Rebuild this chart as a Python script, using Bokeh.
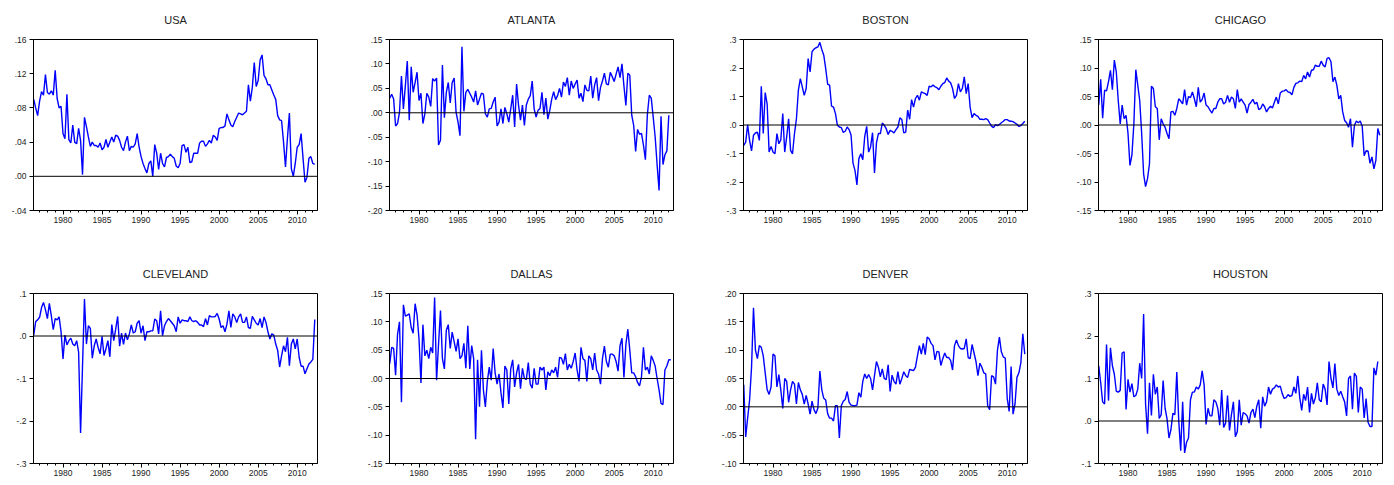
from bokeh.plotting import figure
from bokeh.layouts import row, column
from bokeh.models import Range1d, FixedTicker, Span, CustomJSTickFormatter, ColumnDataSource, Title
from bokeh.embed import file_html
from bokeh.resources import INLINE

# Quarterly series, first observation 1976Q2
START = 1976.25

usa = [
    .090, .080, .071, .088,
    .099, .095, .119, .098,
    .096, .100, .095, .124,
    .091, .080, .082, .050,
    .044, .096, .043, .039,
    .060, .040, .038, .056,
    .042, .002, .069, .058,
    .046, .035, .040, .036,
    .036, .034, .039, .031,
    .034, .043, .034, .040,
    .046, .040, .048, .047,
    .042, .034, .030, .040,
    .047, .030, .035, .034,
    .038, .050, .034, .023,
    .015, .009, .004, .015,
    .018, .000, .037, .027,
    .008, .027, .015, .011,
    .022, .023, .026, .023,
    .021, .012, .010, .015,
    .036, .037, .028, .034,
    .016, .017, .027, .027,
    .027, .039, .041, .041,
    .035, .038, .042, .039,
    .048, .046, .042, .056,
    .057, .057, .059, .073,
    .066, .060, .058, .064,
    .069, .074, .073, .072,
    .074, .076, .107, .088,
    .104, .133, .105, .112,
    .136, .142, .118, .114,
    .107, .107, .101, .095,
    .090, .071, .066, .065,
    .040, .011, .045, .074,
    .009, .000, .015, .034,
    .037, .050, .021, -.007,
    -.001, .021, .023, .015,
    .014,
]

atlanta = [
    .030, .038, .028, -.027, -.022, .001, .075, .008, .055, .106,
    -.015, .094, .042, .062, .083, .025, .040, -.022, -.002, .040,
    .032, .013, .070, .065, .071, -.066, -.056, .098, -.010, .042,
    .062, .020, .062, .071, .001, -.019, -.047, .135, .003, .042,
    .048, .040, .032, .022, .045, .016, .028, .040, .038, -.002,
    -.009, .008, .009, .022, .032, -.027, -.019, .008, -.022, .011,
    -.002, -.019, .008, .036, -.029, .059, .015, -.015, .016, -.026,
    .016, .028, .035, .065, .008, -.009, .005, .009, .042, -.004,
    .030, -.013, .005, .028, .043, .027, .035, .050, .032, .063,
    .054, .072, .036, .065, .050, .059, .067, .030, .040, .023,
    .057, .046, .045, .075, .030, .057, .072, .025, .052, .065,
    .081, .059, .057, .083, .074, .064, .079, .094, .072, .100,
    .055, .015, .081, .077, -.005, -.026, -.079, -.034, -.044, -.042,
    -.066, -.096, -.004, .036, .030, -.009, -.049, -.106, -.159, -.007,
    -.106, -.086, -.078, -.005,
]

boston = [
    -.072, -.060, .001, -.054, -.091, -.036, -.028, -.025, -.054, .136,
    -.030, .114, .073, -.095, -.075, -.095, -.101, -.030, -.066, -.052,
    .040, -.095, -.042, .022, -.089, -.101, -.030, .022, .122, .163,
    .134, .104, .128, .233, .186, .257, .266, .271, .274, .290,
    .265, .245, .198, .143, .140, .066, .063, .040, -.001, -.007,
    -.009, -.026, -.022, -.007, -.016, -.036, -.134, -.159, -.210, -.118,
    -.101, -.122, -.040, -.005, -.095, -.077, -.027, -.168, -.063, -.030,
    -.030, .007, -.001, -.013, -.033, -.019, -.022, -.028, -.016, -.007,
    .025, .019, -.028, -.025, .052, .020, .089, .063, .093, .104,
    .087, .116, .113, .110, .104, .136, .134, .140, .134, .131,
    .124, .136, .145, .149, .165, .154, .148, .128, .093, .104,
    .145, .116, .128, .169, .110, .145, .063, .026, .040, .034,
    .030, .020, .020, .019, .022, .019, .007, -.004, -.009, .001,
    -.002, .002, .008, .013, .019, .019, .014, .013, .012, .007,
    .002, -.005, -.002, .005, .013,
]

chicago = [
    .035, .080, .012, .061, .060, .076, .096, .062, .114, .093,
    .043, .002, .035, .011, .017, -.015, -.071, -.053, .002, .097,
    .070, .043, -.015, -.086, -.108, -.094, -.068, .068, .064, .032,
    .029, -.026, .011, .002, -.004, -.015, -.024, .023, .024, .017,
    .029, .046, .042, .037, .062, .035, .050, .048, .058, .046,
    .032, .066, .040, .045, .056, .035, .032, .026, .021, .029,
    .029, .040, .046, .046, .037, .040, .052, .040, .049, .046,
    .029, .062, .040, .046, .040, .035, .021, .036, .040, .045,
    .037, .040, .027, .029, .037, .032, .023, .029, .033, .030,
    .040, .049, .037, .056, .059, .060, .062, .058, .057, .053,
    .066, .073, .074, .077, .076, .087, .081, .093, .084, .096,
    .097, .105, .103, .103, .112, .105, .102, .117, .118, .111,
    .076, .084, .070, .046, .052, .023, .008, .004, -.004, .011,
    -.039, -.001, .007, .004, .007, -.002, -.054, -.045, -.046, -.067,
    -.056, -.077, -.062, -.006, -.018,
]

cleveland = [
    .002, .034, .038, .044, .067, .079, .062, .041, .077, .048,
    .015, .041, .038, .045, .010, -.054, .002, -.021, -.011, -.005,
    -.019, -.023, -.011, -.038, -.228, -.070, .087, -.019, .024, .018,
    -.052, -.023, -.007, -.027, -.042, -.001, -.046, -.030, -.011, -.049,
    .027, -.011, .016, .046, -.024, .007, -.020, .007, -.009, .005,
    .026, .007, .010, .030, .036, .007, .024, -.011, .010, .010,
    .012, .012, .040, .036, .005, .059, .001, .024, .034, .041,
    .036, .030, .024, .010, .045, .030, .038, .036, .036, .034,
    .045, .036, .034, .036, .032, .026, .026, .022, .041, .026,
    .048, .045, .045, .046, .053, .040, .020, .024, .010, .028,
    .059, .020, .052, .045, .032, .045, .052, .032, .032, .045,
    .020, .018, .046, .038, .030, .026, .041, .020, .045, .032,
    .010, -.007, .005, .002, -.019, -.034, -.073, -.046, -.023, -.037,
    -.003, -.070, -.019, -.007, -.030, -.007, -.050, -.071, -.071, -.089,
    -.077, -.066, -.061, -.055, .039,
]

dallas = [
    .026, .055, .053, .006, .078, .100, -.042, .130, .110, .112,
    .114, .090, .080, .132, .112, .070, -.008, .095, .040, .050,
    .035, .055, .045, .143, -.003, .060, .120, .035, .017, .085,
    .095, .053, .082, .065, .048, .070, .035, .040, .062, .018,
    .093, .017, .058, .035, -.107, .033, -.050, .050, -.020, -.050,
    -.005, .020, -.003, .053, .010, -.010, .008, -.025, -.052, .022,
    .015, -.045, .017, .033, -.015, .010, .025, -.018, .018, .000,
    -.002, .028, -.010, -.017, .018, -.010, -.010, .020, .015, .020,
    -.020, .012, .005, .015, .010, .020, .002, .037, .036, .025,
    .044, .015, .025, .018, .030, .045, .015, -.005, .055, .035,
    .032, -.005, .040, .035, .015, .045, .015, .008, -.010, .035,
    .057, .030, .020, .043, .043, .040, .030, .013, .058, .071,
    .002, .060, .087, .050, .010, .010, .003, -.007, -.013, .003,
    .055, .015, .020, .008, .040, .032, .022, .000, -.020, -.044,
    -.046, .015, .022, .033, .033,
]

denver = [
    .039, -.053, -.020, .012, .070, .175, .100, .085, .108, .105,
    .090, .060, .030, .022, .035, .093, .090, .035, .057, .030,
    -.003, .050, .045, .008, .030, .045, .040, .005, .043, .030,
    .022, .005, .020, .005, -.013, .010, -.005, -.012, -.002, .063,
    .030, .015, .012, -.012, -.020, -.020, -.025, .002, .002, -.055,
    .002, .010, .013, .027, .008, .003, .002, .002, .003, .025,
    .017, .045, .058, .050, .057, .050, .030, .055, .080, .070,
    .053, .067, .050, .048, .074, .027, .056, .045, .040, .062,
    .040, .050, .062, .055, .052, .066, .065, .064, .070, .090,
    .108, .093, .112, .092, .123, .120, .112, .108, .083, .098,
    .097, .073, .085, .095, .087, .087, .082, .065, .108, .118,
    .108, .103, .102, .103, .120, .087, .085, .110, .095, .080,
    .055, .077, .070, .060, .058, .002, -.005, .055, .053, .040,
    .100, .123, .097, .088, .086, .015, -.008, .071, -.013, .005,
    .052, .060, .078, .129, .093,
]

houston = [
    .130, .090, .045, .040, .180, .048, .172, .130, .110, .070,
    .068, .072, .160, .163, .027, .098, .068, .088, .057, .060,
    .075, .136, .100, .252, .040, -.030, .090, .013, .110, .063,
    .080, .006, .015, .095, .030, .005, -.040, -.020, .018, .015,
    .115, .000, -.070, .045, -.075, -.050, -.040, .050, .068, .068,
    .080, .075, .085, .118, .085, -.008, .030, .012, .012, .050,
    .045, .030, -.010, .073, -.015, -.005, .060, -.022, .015, .045,
    -.037, -.025, .050, -.010, .020, .017, .012, -.005, .020, .028,
    .008, .035, .050, -.017, .057, .035, .045, .080, .063, .075,
    .078, .085, .080, .082, .065, .053, .055, .062, .058, .060,
    .080, .065, .106, .055, .025, .063, .048, .080, .020, .065,
    .040, .055, .090, .050, .045, .087, .075, .038, .140, .100,
    .078, .135, .075, .060, .070, .057, .045, .012, .100, .106,
    .028, .113, .105, .020, .080, .075, .007, .053, -.003, -.013,
    -.013, .125, .108, .140,
]

titles = ["USA", "ATLANTA", "BOSTON", "CHICAGO", "CLEVELAND", "DALLAS", "DENVER", "HOUSTON"]
series = [usa, atlanta, boston, chicago, cleveland, dallas, denver, houston]
y_limits = [(-0.04, 0.16), (-0.20, 0.15), (-0.3, 0.3), (-0.15, 0.15),
            (-0.3, 0.1), (-0.15, 0.15), (-0.10, 0.20), (-0.1, 0.3)]
y_steps = [0.04, 0.05, 0.1, 0.05, 0.1, 0.05, 0.05, 0.1]
y_decimals = [2, 2, 1, 2, 1, 2, 2, 1]
x_major = [1980, 1985, 1990, 1995, 2000, 2005, 2010]
x_minor = list(range(1977, 2013))
X_LO, X_HI = 1976.22, 2012.6

FONT = "Liberation Sans"
fig_widths = [364, 354, 355, 313]
border_left = [33, 25, 25, 25]
border_right = [47, 45, 46, 4]
row_heights = [256, 222]
border_top = [39, 37]
border_bottom = [46, 15]

fmt_code = """
let a = Math.abs(tick) < 1e-9 ? 0 : tick;
let s = Math.abs(a).toFixed(d);
if (s.startsWith("0")) { s = s.slice(1); }
return (a < 0 ? "-" : "") + s;
"""

figs = []
for k in range(8):
    r, c = divmod(k, 4)
    vals = series[k]
    xs = [START + i / 4 for i in range(len(vals))]
    lo, hi = y_limits[k]
    p = figure(width=fig_widths[c], height=row_heights[r],
               x_range=Range1d(X_LO, X_HI), y_range=Range1d(lo, hi),
               output_backend="svg", toolbar_location=None,
               min_border_left=border_left[c], min_border_right=border_right[c],
               min_border_top=border_top[r], min_border_bottom=border_bottom[r])
    # spacer between the frame and the title
    p.add_layout(Title(text=" ", text_font=FONT, text_font_size="8px", standoff=3), "above")
    p.add_layout(Title(text=titles[k], align="center", text_font=FONT,
                       text_font_size="11px", text_font_style="normal",
                       text_color="#222222", standoff=0), "above")
    p.grid.visible = False
    p.outline_line_color = "black"
    p.outline_line_width = 1
    p.outline_line_alpha = 1
    p.background_fill_color = "white"
    p.border_fill_color = "white"

    n = int(round((hi - lo) / y_steps[k]))
    yt = [round(lo + i * y_steps[k], 4) for i in range(n + 1)]
    p.yaxis.ticker = FixedTicker(ticks=yt, minor_ticks=[])
    p.yaxis.formatter = CustomJSTickFormatter(args=dict(d=y_decimals[k]), code=fmt_code)
    p.yaxis.major_tick_out = 4
    p.yaxis.major_tick_in = 0
    p.yaxis.minor_tick_out = 0
    p.yaxis.major_label_standoff = 3

    p.xaxis.ticker = FixedTicker(ticks=x_major, minor_ticks=x_minor)
    p.xaxis.major_tick_out = 4
    p.xaxis.major_tick_in = 0
    p.xaxis.minor_tick_out = 2
    p.xaxis.minor_tick_in = 0
    p.xaxis.major_label_standoff = 2

    for ax in (p.xaxis, p.yaxis):
        ax.axis_line_color = "black"
        ax.major_tick_line_color = "black"
        ax.minor_tick_line_color = "black"
        ax.major_label_text_font = FONT
        ax.major_label_text_font_size = "8.5px"
        ax.major_label_text_color = "#222222"

    p.add_layout(Span(location=0, dimension="width", line_color="black", line_width=1))
    src = ColumnDataSource(dict(x=xs, y=vals))
    p.line("x", "y", source=src, line_color="#0000FF", line_width=1.4)
    figs.append(p)

layout = column(row(*figs[:4]), row(*figs[4:]))
open("out.html", "w").write(file_html(layout, INLINE))
